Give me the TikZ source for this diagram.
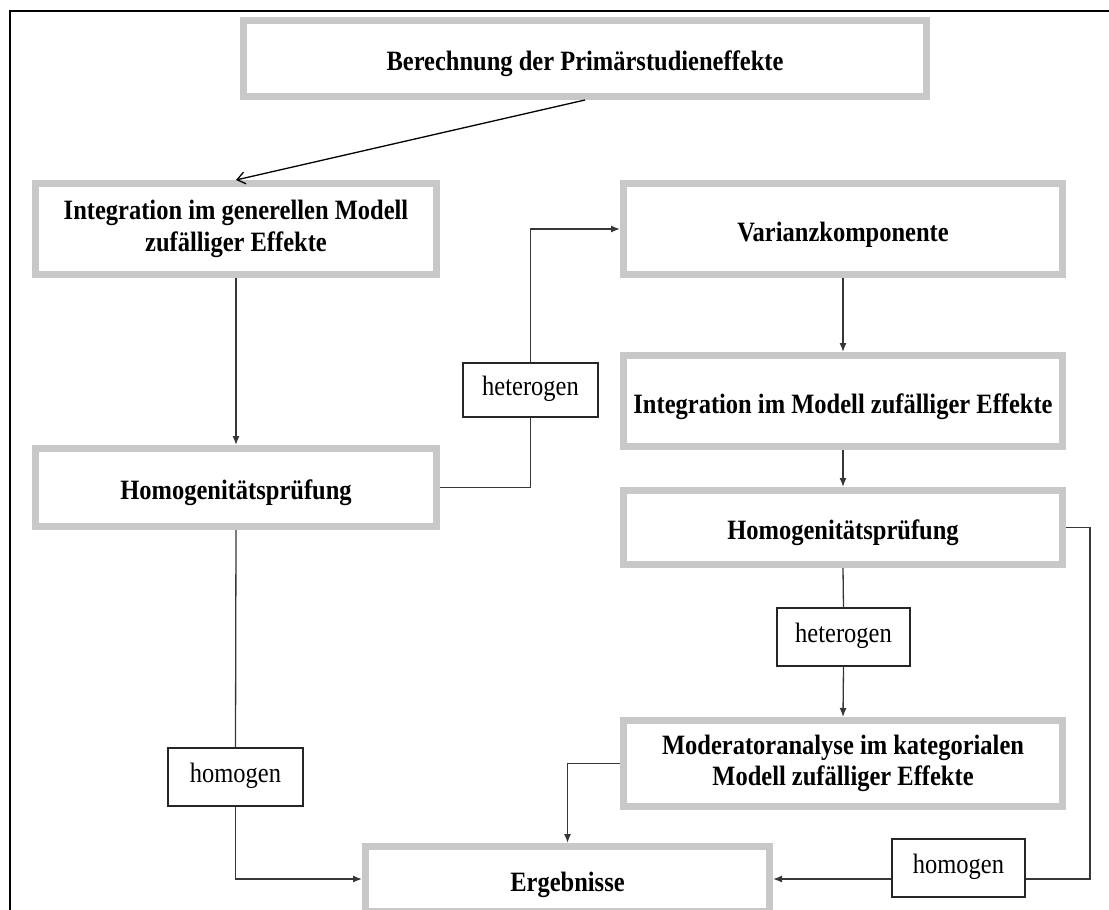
\documentclass[tikz,border=0pt]{standalone}
\usepackage{fontspec}
\setmainfont{Liberation Serif}[FakeStretch=0.875]
\usetikzlibrary{arrows.meta}
\definecolor{bandgray}{RGB}{200,200,200}
\definecolor{wire}{RGB}{55,55,55}

\begin{document}
\begin{tikzpicture}[x=1pt,y=-1pt,
  stage/.style={draw=bandgray, line width=7pt, fill=white, rectangle,
    inner sep=0pt, align=center,
    font=\fontsize{28}{31.5}\selectfont\bfseries},
  oneline/.style={stage, text height=24pt, text depth=0pt},
  tag/.style={draw=black!85, line width=1.3pt, fill=white, rectangle,
    inner sep=0pt, text height=14pt, text depth=4pt,
    font=\fontsize{28}{31.5}\selectfont},
  wireline/.style={draw=wire, line width=1.3pt},
  arr/.style={wireline, -{Latex[length=9pt,width=7pt]}},
  openarr/.style={draw=black, line width=1.3pt,
    -{Straight Barb[length=8pt,width=12pt]}},
]
\useasboundingbox (0,0) rectangle (1109,910);

% outer frame (left and top edges)
\draw[line width=2pt, line cap=rect] (10,910) -- (10,11) -- (1109,11);

% process stages
\node[oneline, minimum width=683pt, minimum height=76pt] (top) at (585,58.5)
  {Berechnung der Primärstudieneffekte};
\node[stage, minimum width=401pt, minimum height=91pt] (integ1) at (236,229)
  {Integration im generellen Modell\\zufälliger Effekte};
\node[oneline, minimum width=439pt, minimum height=91pt] (varianz) at (843,229)
  {Varianzkomponente};
\node[oneline, minimum width=401pt, minimum height=78pt] (homog1) at (236,487.5)
  {Homogenitätsprüfung};
\node[oneline, minimum width=439pt, minimum height=91pt] (integ2) at (843,401)
  {Integration im Modell zufälliger Effekte};
\node[oneline, minimum width=439pt, minimum height=74pt] (homog2) at (843,527.5)
  {Homogenitätsprüfung};
\node[stage, minimum width=439pt, minimum height=86pt] (moder) at (843,763.5)
  {Moderatoranalyse im kategorialen\\Modell zufälliger Effekte};
\node[oneline, minimum width=404pt, minimum height=65pt] (ergeb) at (567.5,879)
  {Ergebnisse};

% decision tags
\node[tag, minimum width=135pt, minimum height=54pt] (het1) at (530.5,390) {heterogen};
\node[tag, minimum width=133pt, minimum height=58pt] (het2) at (843.5,637) {heterogen};
\node[tag, minimum width=135pt, minimum height=58pt] (hom1) at (235.5,777) {homogen};
\node[tag, minimum width=133pt, minimum height=58pt] (hom2) at (958.5,868) {homogen};

% connectors
\draw[openarr] (top.south) -- (integ1.north);
\draw[arr] (integ1.south) -- (homog1.north);

\draw[wireline] (homog1.east) -| (het1.south);
\draw[arr] (het1.north) |- (varianz.west);

\draw[arr] (varianz.south) -- (integ2.north);
\draw[arr] (integ2.south) -- (homog2.north);

\draw[wireline] (homog2.south) -- (het2.north);
\draw[arr] (het2.south) -- (moder.north);

\coordinate (bend) at (1090,527.5);
\draw[wireline] (homog2.east) -- (bend) |- (hom2.east |- ergeb.center);
\draw[arr] (hom2.west |- ergeb.center) -- (ergeb.east);

\draw[wireline] (homog1.south) -- (hom1.north);
\draw[arr] (hom1.south) |- (ergeb.west);

\draw[arr] (moder.west) -| (ergeb.north);
\end{tikzpicture}
\end{document}
